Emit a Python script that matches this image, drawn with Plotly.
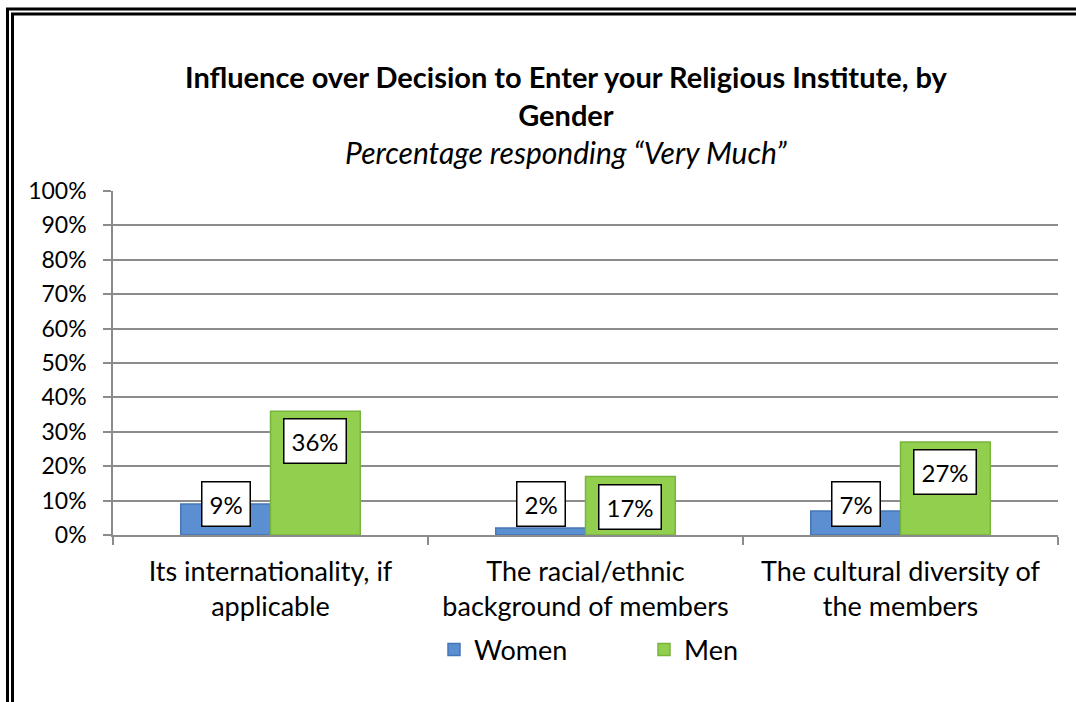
import plotly.graph_objects as go

categories = ["Its internationality, if<br>applicable",
              "The racial/ethnic<br>background of members",
              "The cultural diversity of<br>the members"]
women = [0.09, 0.02, 0.07]
men = [0.36, 0.17, 0.27]
y_ticks = [i / 10 for i in range(11)]
y_tick_text = [f"{int(t * 100)}%" for t in y_ticks]

FONT = "Lato, Calibri, sans-serif"
W, H = 1076, 702
L, R, T, B = 113, 18, 191, 167
BARGAP = 0.43
bw = (1 - BARGAP) / 2

fig = go.Figure()
fig.add_trace(go.Bar(x=categories, y=women, name="Women",
                     marker=dict(color="#5B8FD2", line=dict(color="#4676B4", width=1.5))))
fig.add_trace(go.Bar(x=categories, y=men, name="Men",
                     marker=dict(color="#92CF4E", line=dict(color="#79B43C", width=1.5))))

# value labels in white boxes
box = dict(showarrow=False, bgcolor="white", bordercolor="black", borderwidth=1.5,
           borderpad=7, font=dict(family=FONT, size=24, color="black"))
for i, v in enumerate(women):
    fig.add_annotation(x=i - bw / 2, y=0, yanchor="bottom", yshift=8,
                       text=f"{round(v * 100)}%", **box)
for i, v in enumerate(men):
    fig.add_annotation(x=i + bw / 2, y=v, yanchor="top", yshift=-7,
                       text=f"{round(v * 100)}%", **box)

# title + subtitle
pw, ph = W - L - R, H - T - B
def px_x(p):
    return (p - L) / pw
def px_y(p):
    return (H - B - p) / ph

fig.add_annotation(xref="paper", yref="paper", x=px_x(566), y=px_y(96), yanchor="middle",
                   showarrow=False,
                   text="<b>Influence over Decision to Enter your Religious Institute, by<br>Gender</b>",
                   font=dict(family=FONT, size=29, color="black"))
fig.add_annotation(xref="paper", yref="paper", x=px_x(566), y=px_y(152), yanchor="middle",
                   showarrow=False, text="<i>Percentage responding \u201cVery Much\u201d</i>",
                   font=dict(family=FONT, size=30, color="black"))

# double frame around the chart
for off in (7.5, 12.5):
    fig.add_shape(type="rect", xref="paper", yref="paper",
                  x0=px_x(off), y0=px_y(off + 1.5), x1=px_x(W + 20), y1=px_y(H + 20),
                  line=dict(color="black", width=3), layer="above")

fig.update_layout(
    width=W, height=H,
    margin=dict(l=L, r=R, t=T, b=B),
    paper_bgcolor="white", plot_bgcolor="white",
    barmode="group", bargap=BARGAP, bargroupgap=0,
    font=dict(family=FONT, color="black"),
    showlegend=True,
    legend=dict(orientation="h", x=px_x(434), xanchor="left", y=px_y(650), yanchor="middle",
                font=dict(family=FONT, size=27), entrywidth=165, itemwidth=30),
)
fig.update_yaxes(range=[0, 1], tickvals=y_ticks, ticktext=y_tick_text,
                 showgrid=True, gridcolor="#8C8C8C", gridwidth=1.5,
                 showline=True, linecolor="#8C8C8C", linewidth=1.5,
                 ticks="outside", ticklen=8, tickcolor="#8C8C8C", tickwidth=1.5,
                 ticklabelstandoff=12, zeroline=False,
                 tickfont=dict(family=FONT, size=23, color="black"))
fig.update_xaxes(showline=True, linecolor="#8C8C8C", linewidth=1.5,
                 ticks="outside", tickson="boundaries", ticklen=8, tickcolor="#8C8C8C", tickwidth=1.5,
                 ticklabelstandoff=12,
                 tickfont=dict(family=FONT, size=27, color="black"))

fig.write_html("out.html", config={"displayModeBar": False},
               post_script="document.body.style.margin='0';")
